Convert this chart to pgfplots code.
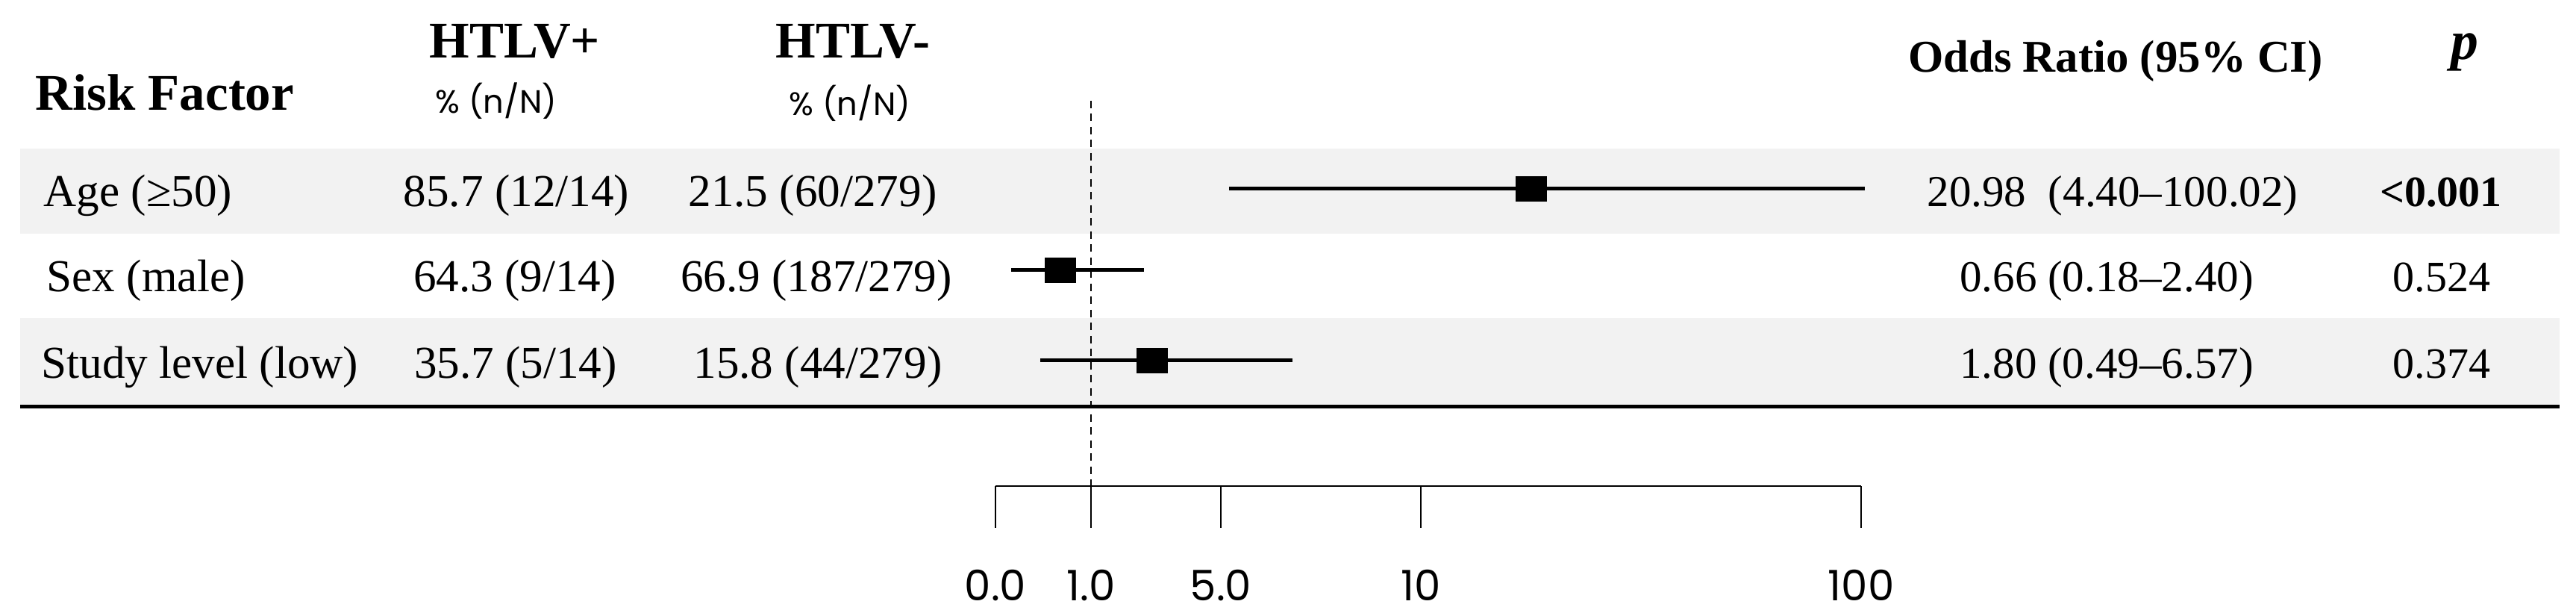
\documentclass[border=0pt]{standalone}
\usepackage{pgfplots}
\pgfplotsset{compat=1.18}
\usepackage{fontspec}
\setmainfont{Liberation Serif}
\newfontfamily\gothic{Poppins}
\definecolor{band}{HTML}{F2F2F2}
\newcommand\fs[1]{\fontsize{#1}{#1}\selectfont}

\begin{document}
\begin{tikzpicture}[txt/.style={inner sep=0pt,anchor=base}]
\path[use as bounding box] (0,0) rectangle (34.52cm,8.21cm);
% canvas axis: x and y in pixels of the reference, y counted from the top
\begin{axis}[
  name=main,at={(0,0)},anchor=south west,
  width=34.52cm,height=8.21cm,scale only axis,
  xmin=0,xmax=3452,ymin=0,ymax=821,y dir=reverse,
  hide axis,clip=false]
  \fill[band] (axis cs:27,199) rectangle (axis cs:3430,313);
  \fill[band] (axis cs:27,426) rectangle (axis cs:3430,541);
  \draw[line width=0.05cm] (axis cs:27,544.5) -- (axis cs:3430,544.5);
  % header
  \node[txt,anchor=base west,font=\fs{19.6}\bfseries] at (axis cs:47,148) {Risk Factor};
  \node[txt,font=\fs{19.6}\bfseries] at (axis cs:690,78) {HTLV+};
  \node[txt,font=\fs{19.6}\bfseries] at (axis cs:1143,78) {HTLV-};
  \node[txt,font=\gothic\fs{12.3}] at (axis cs:665,152) {\% (n/N)};
  \node[txt,font=\gothic\fs{12.3}] at (axis cs:1139,155) {\% (n/N)};
  \node[txt,font=\fs{17.3}\bfseries] at (axis cs:2835,97) {Odds Ratio (95\% CI)};
  \node[txt,font=\fs{21}\bfseries\itshape] at (axis cs:3303,80) {p};
  % rows
  \node[txt,anchor=base west,font=\fs{17.4}] at (axis cs:58,277) {Age (≥50)};
  \node[txt,anchor=base west,font=\fs{17.4}] at (axis cs:62,391) {Sex (male)};
  \node[txt,anchor=base west,font=\fs{17.4}] at (axis cs:55,507) {Study level (low)};
  \node[txt,font=\fs{17.4}] at (axis cs:692,277) {85.7 (12/14)};
  \node[txt,font=\fs{17.4}] at (axis cs:690,391) {64.3 (9/14)};
  \node[txt,font=\fs{17.4}] at (axis cs:691,507) {35.7 (5/14)};
  \node[txt,font=\fs{17.4}] at (axis cs:1089,277) {21.5 (60/279)};
  \node[txt,font=\fs{17.4}] at (axis cs:1094,391) {66.9 (187/279)};
  \node[txt,font=\fs{17.4}] at (axis cs:1096,507) {15.8 (44/279)};
  \node[txt,font=\fs{16.8}] at (axis cs:2831,277) {20.98\ \ (4.40–100.02)};
  \node[txt,font=\fs{16.8}] at (axis cs:2823,391) {0.66 (0.18–2.40)};
  \node[txt,font=\fs{16.8}] at (axis cs:2823,507) {1.80 (0.49–6.57)};
  \node[txt,font=\fs{16.5}\bfseries] at (axis cs:3271,277) {<0.001};
  \node[txt,font=\fs{16.5}] at (axis cs:3272,391) {0.524};
  \node[txt,font=\fs{16.5}] at (axis cs:3272,507) {0.374};
\end{axis}
% forest axis: x in the same pixel units, y counted from the bottom
\begin{axis}[
  at={(13.34cm,1.70cm)},anchor=south west,
  width=11.60cm,height=5.16cm,scale only axis,
  xmin=1334,xmax=2494,ymin=170,ymax=686,
  axis x line=bottom,axis y line=none,
  axis line style={-,line width=0.45pt},
  xtick={1334,1462,1636,1904,2494},
  xticklabels={0.0,1.0,5.0,10,100},
  tick align=outside,major tick length=0.56cm,
  tick style={black,line width=0.35pt},
  xticklabel style={font=\gothic\fs{16},inner sep=0pt,yshift=-0.56cm},
  clip=false]
  \addplot[black,line width=0.7pt,dash pattern=on 0.1cm off 0.075cm] coordinates {(1462,686) (1462,170)};
  \addplot[black,line width=0.05cm] coordinates {(1647,568) (2499,568)};
  \addplot[black,line width=0.05cm] coordinates {(1355,459) (1533,459)};
  \addplot[black,line width=0.05cm] coordinates {(1394,338) (1732,338)};
  \addplot[only marks,mark=square*,mark size=0.16cm,
    mark options={xscale=1.28,fill=black,draw=black}]
    coordinates {(2052,568) (1421,459) (1544,338)};
\end{axis}
\end{tikzpicture}
\end{document}
